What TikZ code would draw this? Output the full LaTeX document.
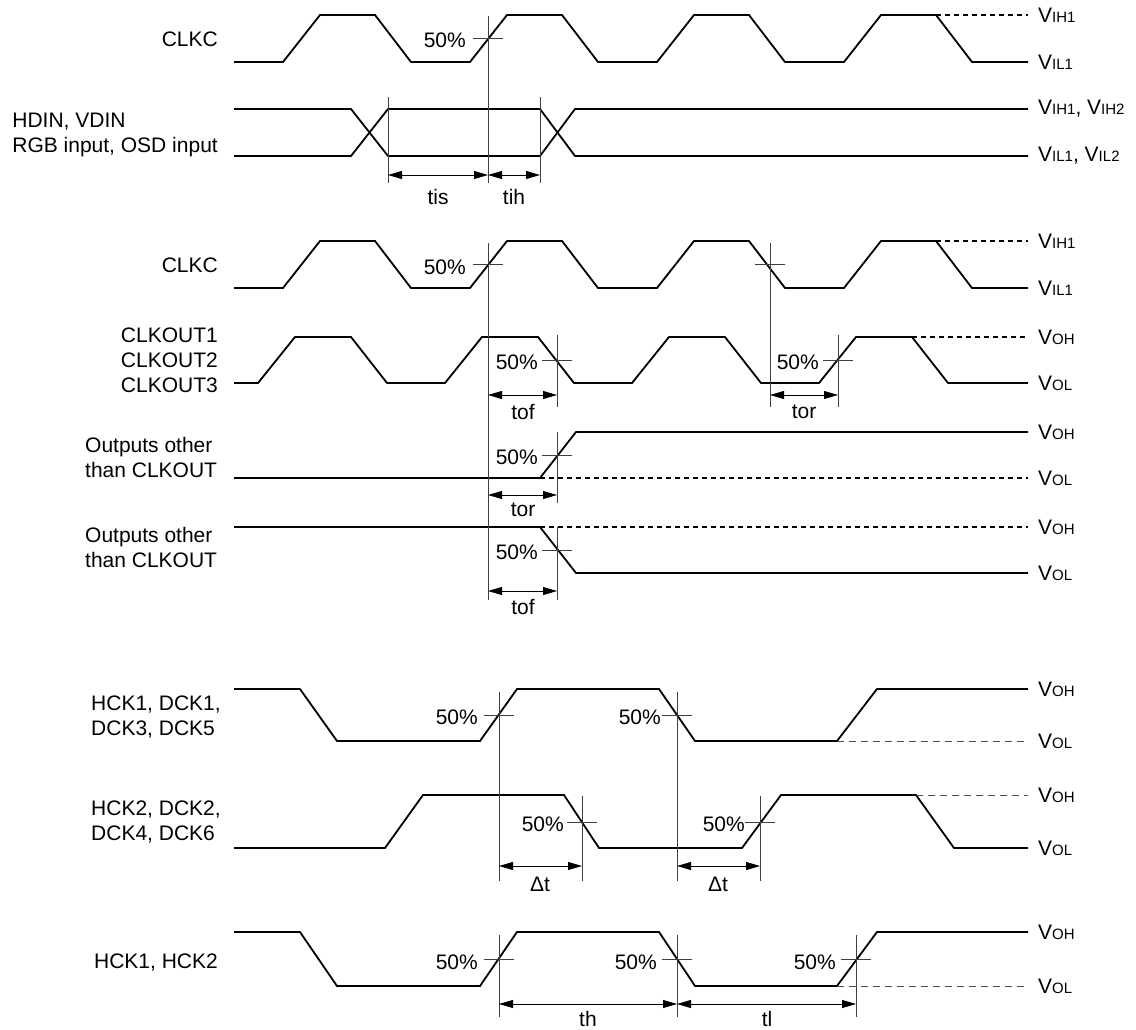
\documentclass[tikz,border=0pt]{standalone}
\usepackage{fontspec}
\setmainfont{Liberation Sans}
\usetikzlibrary{arrows.meta}
\newcommand{\lvl}[1]{V{\fontsize{15}{15}\selectfont #1}}

\begin{document}
\begin{tikzpicture}[x=1pt,y=-1pt]
  \tikzstyle{sig}=[line width=1.8pt, line join=miter]
  \tikzstyle{guide}=[line width=0.8pt, black!75]
  \tikzstyle{refdash}=[line width=1.5pt, dash pattern=on 5pt off 4pt]
  \tikzstyle{thindash}=[line width=0.9pt, black!70, dash pattern=on 7pt off 5pt]
  \tikzstyle{dim}=[line width=0.8pt, {Triangle[length=14pt,width=8pt]}-{Triangle[length=14pt,width=8pt]}]
  \tikzstyle{txt}=[inner sep=0pt, font=\fontsize{21}{25}\selectfont]
  \tikzstyle{lvl}=[txt, anchor=west]
  \useasboundingbox (0,0) rectangle (1136,1030);

  % signal names
  \node[txt, anchor=east] (clkc1) at (218,39) {CLKC};
  \node[txt, anchor=east, align=left] (din) at (218,135) {HDIN, VDIN\\RGB input, OSD input};
  \node[txt, anchor=east] (clkc2) at (218,265) {CLKC};
  \node[txt, anchor=east, align=right] (clkout) at (218,360) {CLKOUT1\\CLKOUT2\\CLKOUT3};
  \node[txt, anchor=west, align=left] (other1) at (85,457) {Outputs other\\than CLKOUT};
  \node[txt, anchor=west, align=left] (other2) at (85,547) {Outputs other\\than CLKOUT};
  \node[txt, anchor=west, align=left] (dck1) at (91,717) {HCK1, DCK1,\\DCK3, DCK5};
  \node[txt, anchor=west, align=left] (dck2) at (91,822) {HCK2, DCK2,\\DCK4, DCK6};
  \node[txt, anchor=east] (hck) at (218,963) {HCK1, HCK2};

  % waveforms
  \foreach \h/\l in {15/62, 241/288}{
    \draw[sig] (234,\l) \foreach \x in {283,470,657,844} {-- (\x,\l) -- (\x+37,\h) -- (\x+92,\h) -- (\x+128,\l)} -- (1028,\l);
    \draw[refdash] (936,\h) -- (1028,\h);
  }
  \draw[sig] (234,109) -- (351,109) -- (388,156) -- (540,156) -- (575,109) -- (1028,109);
  \draw[sig] (234,156) -- (351,156) -- (388,109) -- (540,109) -- (575,156) -- (1028,156);
  \draw[sig] (234,383) \foreach \x in {258,445,632,819} {-- (\x,383) -- (\x+37,337) -- (\x+93,337) -- (\x+129,383)} -- (1028,383);
  \draw[refdash] (912,337) -- (1028,337);
  \draw[sig] (234,478) -- (540,478) -- (576,432) -- (1028,432);
  \draw[refdash] (540,478) -- (1028,478);
  \draw[sig] (234,527) -- (540,527) -- (576,573) -- (1028,573);
  \draw[refdash] (540,527) -- (1028,527);
  \foreach \h/\l in {689/741, 932/986}{
    \draw[sig] (234,\h) -- (300,\h) -- (337,\l) -- (480,\l) -- (517,\h) -- (659,\h) -- (695,\l) -- (837,\l) -- (877,\h) -- (1028,\h);
    \draw[thindash] (837,\l) -- (1028,\l);
  }
  \draw[sig] (234,848) -- (385,848) -- (423,795) -- (564,795) -- (599,848) -- (742,848) -- (781,795) -- (916,795) -- (954,848) -- (1028,848);
  \draw[thindash] (916,795) -- (1028,795);

  % level names
  \foreach \y in {15,241} \node[lvl] (vih\y) at (1038,\y) {\lvl{IH1}};
  \foreach \y in {62,288} \node[lvl] (vil\y) at (1038,\y) {\lvl{IL1}};
  \node[lvl] (vih2) at (1038,109) {\lvl{IH1}, \lvl{IH2}};
  \node[lvl] (vil2) at (1038,156) {\lvl{IL1}, \lvl{IL2}};
  \foreach \y in {337,432,527,689,795,932} \node[lvl] (voh\y) at (1038,\y) {\lvl{OH}};
  \foreach \y in {383,478,573,741,848,986} \node[lvl] (vol\y) at (1038,\y) {\lvl{OL}};

  % timing marks
  \draw[guide] (488,16) -- (488,183);
  \draw[guide] (388,97) -- (388,183);
  \draw[guide] (540,97) -- (540,183);
  \draw[guide] (488,243) -- (488,600);
  \draw[guide] (770,243) -- (770,407);
  \draw[guide] (557,335) -- (557,407);
  \draw[guide] (838,335) -- (838,407);
  \draw[guide] (557,432) -- (557,503);
  \draw[guide] (557,527) -- (557,600);
  \draw[guide] (499,692) -- (499,881);
  \draw[guide] (677,692) -- (677,881);
  \draw[guide] (582,796) -- (582,881);
  \draw[guide] (760,796) -- (760,881);
  \foreach \x in {499,677,856} \draw[guide] (\x,935) -- (\x,1017);
  \foreach \x/\y in {488/38.5, 488/264.5, 770/264.5, 557/360, 838/360, 557/455, 557/550,
                     499/715, 677/715, 582/822, 760/822, 499/959, 677/959, 856/959}
    \draw[guide] (\x-15,\y) -- (\x+15,\y);

  % 50% labels
  \foreach \x/\y [count=\i] in {466/40, 466/267, 538/362, 819/362, 538/457, 538/552,
                                478/717, 661/717, 564/824, 745/824, 478/962, 657/962, 836/962}
    \node[txt, anchor=east] (half\i) at (\x,\y) {50\%};

  % intervals
  \draw[dim] (388,175) -- (488,175);
  \draw[dim] (488,175) -- (540,175);
  \node[txt] (tis) at (438,197) {tis};
  \node[txt] (tih) at (514,197) {tih};
  \draw[dim] (488,395) -- (557,395);
  \node[txt] (tof1) at (523,412) {tof};
  \draw[dim] (770,395) -- (838,395);
  \node[txt] (tor1) at (804,412) {tor};
  \draw[dim] (488,495) -- (557,495);
  \node[txt] (tor2) at (523,510) {tor};
  \draw[dim] (488,591) -- (557,591);
  \node[txt] (tof2) at (523,607) {tof};
  \draw[dim] (499,866) -- (582,866);
  \node[txt] (dt1) at (540,884) {Δt};
  \draw[dim] (677,866) -- (760,866);
  \node[txt] (dt2) at (718,884) {Δt};
  \draw[dim] (499,1004) -- (677,1004);
  \node[txt] (th) at (588,1019) {th};
  \draw[dim] (677,1004) -- (856,1004);
  \node[txt] (tl) at (767,1019) {tl};
\end{tikzpicture}
\end{document}
